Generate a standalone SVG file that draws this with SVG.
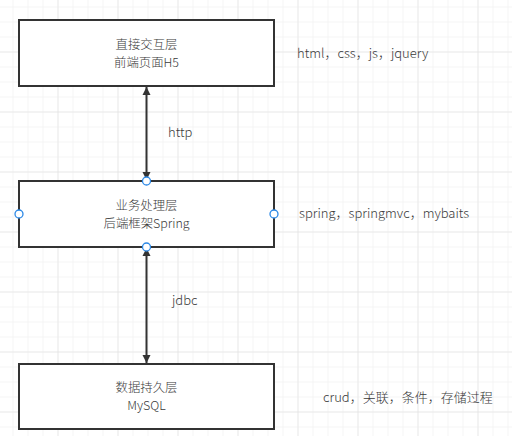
<svg xmlns="http://www.w3.org/2000/svg" width="512" height="436" viewBox="0 0 512 436">
<defs>
<pattern id="minor" x="12.5" y="6.5" width="15" height="15" patternUnits="userSpaceOnUse">
<path d="M0 0H15M0 0V15" fill="none" stroke="#ececec" stroke-width="1"/>
</pattern>
<pattern id="major" x="57.5" y="51.5" width="60" height="60" patternUnits="userSpaceOnUse">
<path d="M0 0H60M0 0V60" fill="none" stroke="#dedede" stroke-width="1"/>
</pattern>
<marker id="arr" viewBox="0 0 10 10" refX="10" refY="5" markerWidth="8" markerHeight="13" markerUnits="userSpaceOnUse" orient="auto-start-reverse">
<path d="M0 0L10 5L0 10Z" fill="#333"/>
</marker>
</defs>
<style>
.box{fill:#fff;stroke:#333;stroke-width:2}
.t{font-family:"Microsoft YaHei","Noto Sans CJK SC",sans-serif;font-size:13px;font-weight:300;fill:#3a3a3a}
.n{font-size:12.4px}
.c{text-anchor:middle}
.pt{fill:#fff;stroke:#2b88e6;stroke-width:1.3}
.edge{stroke:#333;stroke-width:2;fill:none}
</style>
<rect width="512" height="436" fill="#fff"/>
<rect width="512" height="436" fill="url(#minor)"/>
<rect width="512" height="436" fill="url(#major)"/>
<g id="connectors">
<line class="edge" x1="146.5" y1="87" x2="146.5" y2="180" marker-start="url(#arr)" marker-end="url(#arr)"/>
<line class="edge" x1="146.5" y1="248" x2="146.5" y2="363" marker-start="url(#arr)" marker-end="url(#arr)"/>
<text class="t" x="168" y="137">http</text>
<text class="t" x="172" y="305">jdbc</text>
</g>
<g id="node-top">
<rect class="box" x="19" y="20" width="255" height="66"/>
<text class="t n c" x="146.5" y="48.7">直接交互层</text>
<text class="t n c" x="146.5" y="66.7">前端页面H5</text>
</g>
<g id="node-mid">
<rect class="box" x="19" y="181" width="255" height="66"/>
<text class="t n c" x="146.5" y="209.7">业务处理层</text>
<text class="t n c" x="146.5" y="227.7">后端框架Spring</text>
<circle class="pt" cx="146.5" cy="181" r="4"/>
<circle class="pt" cx="19" cy="214" r="4"/>
<circle class="pt" cx="274" cy="214" r="4"/>
<circle class="pt" cx="146.5" cy="247" r="4"/>
</g>
<g id="node-bottom">
<rect class="box" x="19" y="364" width="255" height="65"/>
<text class="t n c" x="146.5" y="392.4">数据持久层</text>
<text class="t n c" x="146.5" y="410.4">MySQL</text>
</g>
<g id="label-top"><text class="t" x="297" y="58">html，css，js，jquery</text></g>
<g id="label-mid"><text class="t" x="299" y="218">spring，springmvc，mybaits</text></g>
<g id="label-bottom"><text class="t" x="323" y="402">crud，关联，条件，存储过程</text></g>
</svg>
